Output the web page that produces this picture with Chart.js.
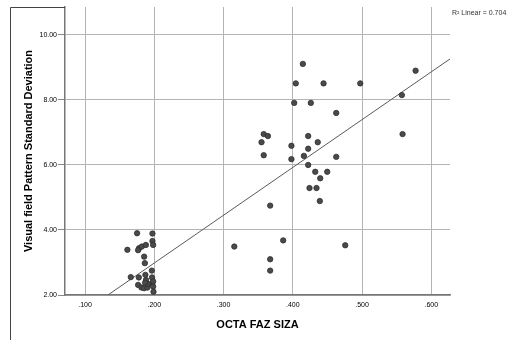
<!DOCTYPE html>
<html>
<head>
<meta charset="utf-8">
<script src="https://cdn.jsdelivr.net/npm/chart.js@4"></script>
<style>
  html, body { margin: 0; padding: 0; background: #fff; }
  #wrap { width: 516px; height: 340px; position: relative; }
</style>
</head>
<body>
<div id="wrap"><canvas id="chart"></canvas></div>
<script>
// ---------------- DATA ----------------
const fazSize = [
  0.4145, 0.4043, 0.4444, 0.4974, 0.5773, 0.5575, 0.402, 0.426, 0.4627,
  0.358, 0.364, 0.3548, 0.4222, 0.436, 0.5585, 0.398, 0.4222, 0.358,
  0.398, 0.416, 0.4627, 0.4222, 0.4324, 0.4497, 0.4396, 0.4241, 0.4342,
  0.439, 0.3673, 0.3861, 0.4757, 0.3673, 0.3673, 0.3155,
  0.1751, 0.1973, 0.1611, 0.178, 0.1766, 0.182, 0.1878, 0.1973, 0.1983,
  0.1853, 0.1863, 0.1964, 0.166, 0.1776, 0.1871, 0.188, 0.1967, 0.1766,
  0.1814, 0.1853, 0.19, 0.1967, 0.1983, 0.1988, 0.1905, 0.1867, 0.1983,
];
const psd = [
  9.11, 8.51, 8.51, 8.51, 8.90, 8.15, 7.91, 7.91, 7.60,
  6.95, 6.89, 6.70, 6.89, 6.70, 6.95, 6.59, 6.50, 6.30,
  6.18, 6.28, 6.25, 6.00, 5.79, 5.79, 5.59, 5.29, 5.29,
  4.89, 4.75, 3.68, 3.53, 3.10, 2.75, 3.49,
  3.90, 3.89, 3.39, 3.44, 3.38, 3.49, 3.54, 3.66, 3.54,
  3.18, 2.98, 2.75, 2.55, 2.54, 2.62, 2.46, 2.54, 2.31,
  2.23, 2.21, 2.23, 2.36, 2.26, 2.10, 2.34, 2.38, 2.42,
];
const xTicks = [0.1, 0.2, 0.3, 0.4, 0.5, 0.6];
const yTicks = [2, 4, 6, 8, 10];
const xRange = [0.071, 0.627];
const yRange = [2, 10.86];
const fitSlope = 14.7;
const fitIntercept = 0.045;
const rSquared = 0.704;

// fit line from where it leaves the x axis to the right edge
const fitStartX = (yRange[0] - fitIntercept) / fitSlope;
const fitLine = [fitStartX, xRange[1]].map((x) => ({ x, y: fitIntercept + fitSlope * x }));

// ---------------- PLUGINS ----------------
const frame = {
  id: 'frame',
  afterDraw(chart) {
    const { ctx } = chart;
    ctx.save();
    ctx.strokeStyle = '#444';
    ctx.lineWidth = 1;
    ctx.beginPath();
    ctx.moveTo(10.5, 340);
    ctx.lineTo(10.5, 7.5);
    ctx.lineTo(chart.chartArea.left, 7.5);
    ctx.stroke();
    ctx.fillStyle = '#333';
    ctx.font = '7px "Liberation Sans", Arial, sans-serif';
    ctx.textBaseline = 'middle';
    ctx.fillText(`R\u00b2 Linear = ${rSquared.toFixed(3)}`, chart.chartArea.right + 2, 13);
    ctx.restore();
  },
};

// ---------------- CHART ----------------
const tickFont = { family: '"Liberation Sans", Arial, sans-serif', size: 7 };
const titleFont = { family: '"Liberation Sans", Arial, sans-serif', size: 11, weight: 'bold' };

new Chart(document.getElementById('chart'), {
  type: 'scatter',
  data: {
    datasets: [
      {
        label: 'PSD',
        data: fazSize.map((x, i) => ({ x, y: psd[i] })),
        backgroundColor: '#4a4a4a',
        borderColor: '#2e2e2e',
        borderWidth: 0.8,
        pointRadius: 2.7,
        order: 1,
      },
      {
        label: 'Linear',
        data: fitLine,
        showLine: true,
        pointRadius: 0,
        borderColor: '#5a5a5a',
        borderWidth: 1,
        order: 2,
      },
    ],
  },
  options: {
    responsive: true,
    maintainAspectRatio: false,
    animation: false,
    events: [],
    layout: { padding: { top: 7, right: 66, left: 0, bottom: 0 } },
    plugins: { legend: { display: false }, tooltip: { enabled: false } },
    scales: {
      x: {
        type: 'linear',
        min: xRange[0],
        max: xRange[1],
        afterBuildTicks: (s) => { s.ticks = xTicks.map((value) => ({ value })); },
        afterFit: (s) => { s.height = 45; },
        grid: { color: '#b4b4b4', lineWidth: 1, drawTicks: false },
        border: { color: '#777', width: 1.5 },
        ticks: {
          padding: 6,
          color: '#000',
          font: tickFont,
          maxRotation: 0,
          callback: (v) => v.toFixed(3).replace(/^0/, ''),
        },
        title: { display: true, text: 'OCTA FAZ SIZA', color: '#000', font: titleFont, padding: { bottom: 8 } },
      },
      y: {
        type: 'linear',
        min: yRange[0],
        max: yRange[1],
        afterBuildTicks: (s) => { s.ticks = yTicks.map((value) => ({ value })); },
        afterFit: (s) => { s.width = 65; },
        grid: { color: '#b4b4b4', lineWidth: 1, tickLength: 7, tickColor: '#888' },
        border: { color: '#777', width: 1.5 },
        ticks: {
          padding: 1,
          color: '#000',
          font: tickFont,
          callback: (v) => v.toFixed(2),
        },
        title: { display: true, text: 'Visual field Pattern Standard Deviation', color: '#000', font: titleFont, padding: { top: 22 } },
      },
    },
  },
  plugins: [frame],
});
</script>
</body>
</html>
